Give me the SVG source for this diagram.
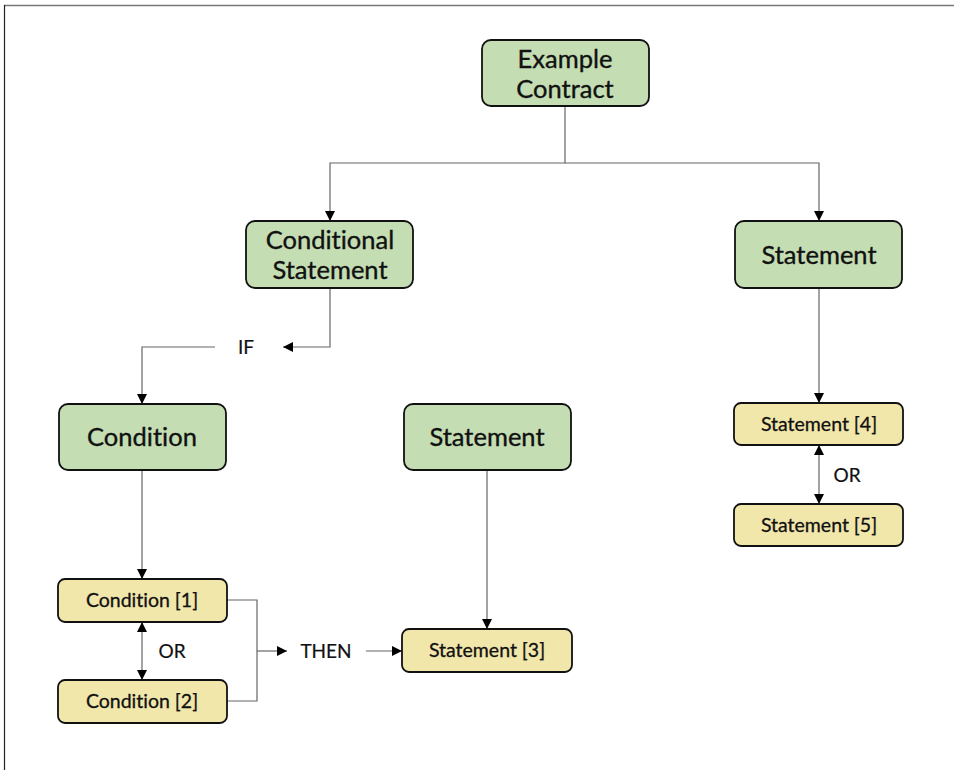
<svg xmlns="http://www.w3.org/2000/svg" width="954" height="770" viewBox="0 0 954 770">
<style>
text{font-variant-ligatures:none;font-feature-settings:"liga" 0,"dlig" 0}
.g{fill:#c4ddb3;stroke:#111;stroke-width:1.8}
.y{fill:#f1e7ab;stroke:#111;stroke-width:1.8}
.big{font-family:Lato,"Noto Sans",sans-serif;font-size:25.5px;fill:#111;stroke:#111;stroke-width:0.35;text-anchor:middle}
.sm{font-family:Lato,"Noto Sans",sans-serif;font-size:19.5px;fill:#111;stroke:#111;stroke-width:0.3;text-anchor:middle}
.lbl{font-family:Lato,"Noto Sans",sans-serif;font-size:19px;fill:#111;stroke:#111;stroke-width:0.2;text-anchor:middle}
.c{fill:none;stroke:#666;stroke-width:1.2}
</style>
<defs>
<marker id="a" viewBox="0 0 10 10" refX="10" refY="5" markerWidth="10" markerHeight="10" markerUnits="userSpaceOnUse" orient="auto-start-reverse">
<path d="M0,0 L10,5 L0,10 z" fill="#000"/>
</marker>
</defs>
<rect width="954" height="770" fill="#fff"/>
<line x1="4" y1="5.5" x2="954" y2="5.5" stroke="#777" stroke-width="1.5"/>
<line x1="4.5" y1="5" x2="4.5" y2="770" stroke="#222" stroke-width="1.2"/>
<g id="connectors">
<polyline class="c" points="565,106 565,163 330,163 330,221" marker-end="url(#a)"/>
<polyline class="c" points="565,163 819,163 819,221" marker-end="url(#a)"/>
<polyline class="c" points="330,288 330,347 283,347" marker-end="url(#a)"/>
<polyline class="c" points="215,347 142,347 142,404" marker-end="url(#a)"/>
<line class="c" x1="142" y1="470" x2="142" y2="579" marker-end="url(#a)"/>
<line class="c" x1="142" y1="622" x2="142" y2="680" stroke="#000" marker-start="url(#a)" marker-end="url(#a)"/>
<polyline class="c" points="227,600 257,600 257,701 227,701"/>
<line class="c" x1="257" y1="651" x2="287" y2="651" marker-end="url(#a)"/>
<line class="c" x1="366" y1="651" x2="402" y2="651" marker-end="url(#a)"/>
<line class="c" x1="487" y1="470" x2="487" y2="629" marker-end="url(#a)"/>
<line class="c" x1="819" y1="288" x2="819" y2="403" marker-end="url(#a)"/>
<line class="c" x1="819" y1="445" x2="819" y2="504" marker-start="url(#a)" marker-end="url(#a)"/>
<text class="lbl" x="246" y="354">IF</text>
<text class="lbl" x="172" y="658">OR</text>
<text class="lbl" x="326" y="658">THEN</text>
<text class="lbl" x="847" y="482">OR</text>
</g>
<g id="example-contract"><rect class="g" x="482" y="40" width="167" height="66" rx="9"/><text class="big" x="565" y="68">Example</text><text class="big" x="565" y="98">Contract</text></g>
<g id="conditional-statement"><rect class="g" x="246" y="221" width="167" height="67" rx="9"/><text class="big" x="330" y="249">Conditional</text><text class="big" x="330" y="279">Statement</text></g>
<g id="statement-right"><rect class="g" x="735" y="221" width="167" height="67" rx="9"/><text class="big" x="819" y="264">Statement</text></g>
<g id="condition"><rect class="g" x="59" y="404" width="167" height="66" rx="9"/><text class="big" x="142" y="446">Condition</text></g>
<g id="statement-mid"><rect class="g" x="404" y="404" width="167" height="66" rx="9"/><text class="big" x="487" y="446">Statement</text></g>
<g id="condition-1"><rect class="y" x="58" y="579" width="169" height="43" rx="7"/><text class="sm" x="142" y="607">Condition [1]</text></g>
<g id="condition-2"><rect class="y" x="58" y="680" width="169" height="43" rx="7"/><text class="sm" x="142" y="708">Condition [2]</text></g>
<g id="statement-3"><rect class="y" x="402" y="629" width="170" height="43" rx="7"/><text class="sm" x="487" y="657">Statement [3]</text></g>
<g id="statement-4"><rect class="y" x="734" y="403" width="169" height="42" rx="7"/><text class="sm" x="819" y="431">Statement [4]</text></g>
<g id="statement-5"><rect class="y" x="734" y="504" width="169" height="42" rx="7"/><text class="sm" x="819" y="532">Statement [5]</text></g>
</svg>
